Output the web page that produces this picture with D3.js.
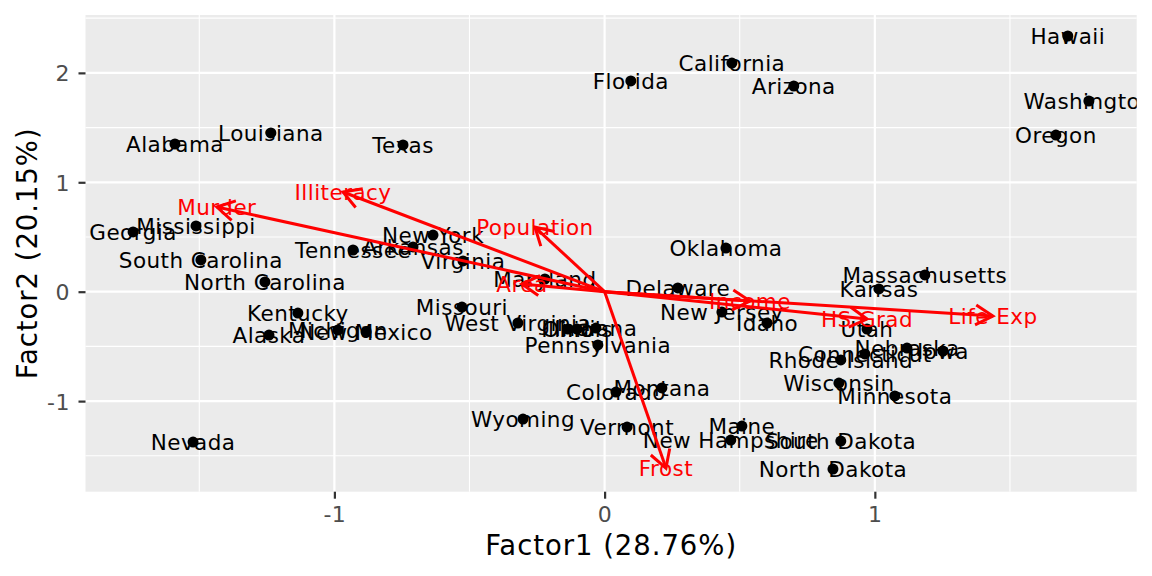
<!DOCTYPE html>
<html>
<head>
<meta charset="utf-8">
<script src="https://cdn.jsdelivr.net/npm/d3@7"></script>
<style>
  html, body { margin: 0; padding: 0; background: #ffffff; }
  svg { display: block; font-family: "DejaVu Sans", sans-serif; }
</style>
</head>
<body>
<div id="chart"></div>
<script>
// State scores on the first two factors
const states = ["Hawaii", "Washington", "Oregon", "California", "Florida", "Arizona",
  "Louisiana", "Alabama", "Texas", "Mississippi", "Georgia", "South Carolina",
  "North Carolina", "Tennessee", "Arkansas", "New York", "Virginia", "Maryland",
  "Oklahoma", "Delaware", "New Jersey", "Idaho", "Missouri", "West Virginia",
  "Ohio", "Illinois", "Indiana", "Pennsylvania", "Colorado", "Montana", "Wyoming",
  "Vermont", "Maine", "New Hampshire", "South Dakota", "North Dakota", "Kentucky",
  "Alaska", "Michigan", "New Mexico", "Nevada", "Massachusetts", "Kansas", "Utah",
  "Nebraska", "Iowa", "Connecticut", "Rhode Island", "Wisconsin", "Minnesota"];
const factor1 = [1.714, 1.792, 1.670, 0.471, 0.097, 0.700,
  -1.235, -1.590, -0.746, -1.512, -1.745, -1.494,
  -1.257, -0.931, -0.709, -0.635, -0.524, -0.221,
  0.449, 0.271, 0.434, 0.601, -0.528, -0.321,
  -0.136, -0.102, -0.032, -0.025, 0.042, 0.212, -0.302,
  0.083, 0.508, 0.467, 0.874, 0.845, -1.135,
  -1.242, -0.987, -0.883, -1.523, 1.185, 1.015, 0.971,
  1.119, 1.252, 0.963, 0.874, 0.867, 1.074];
const factor2 = [2.337, 1.743, 1.432, 2.090, 1.926, 1.880,
  1.451, 1.350, 1.341, 0.601, 0.546, 0.290,
  0.089, 0.381, 0.409, 0.518, 0.281, 0.116,
  0.399, 0.034, -0.186, -0.286, -0.140, -0.286,
  -0.341, -0.341, -0.332, -0.487, -0.917, -0.880, -1.164,
  -1.237, -1.228, -1.356, -1.365, -1.621, -0.195,
  -0.396, -0.350, -0.368, -1.374, 0.153, 0.025, -0.341,
  -0.515, -0.542, -0.569, -0.624, -0.835, -0.953];

// Variable loadings (arrow tips)
const variables = ["Murder", "Illiteracy", "Population", "Area", "Income", "HS Grad", "Life Exp", "Frost"];
const load1 = [-1.435, -0.968, -0.258, -0.306, 0.538, 0.971, 1.437, 0.227];
const load2 = [0.774, 0.911, 0.591, 0.070, -0.085, -0.250, -0.222, -1.612];

const xTicks = [-1, 0, 1];
const yTicks = [-1, 0, 1, 2];
const xMinor = [-1.5, -0.5, 0.5, 1.5];
const yMinor = [-1.5, -0.5, 0.5, 1.5, 2.5];

const xTitle = "Factor1 (28.76%)";
const yTitle = "Factor2 (20.15%)";

const width = 1152, height = 576;
const panel = { left: 85.5, right: 1136.7, top: 15, bottom: 491.7 };

const x = d3.scaleLinear().domain([-1.921, 1.969]).range([panel.left, panel.right]);
const y = d3.scaleLinear().domain([-1.828, 2.529]).range([panel.bottom, panel.top]);

const svg = d3.select("#chart").append("svg")
  .attr("width", width)
  .attr("height", height);

svg.append("defs").append("clipPath").attr("id", "panel-clip")
  .append("rect")
  .attr("x", panel.left).attr("y", panel.top)
  .attr("width", panel.right - panel.left)
  .attr("height", panel.bottom - panel.top);

// Panel background
svg.append("rect")
  .attr("x", panel.left).attr("y", panel.top)
  .attr("width", panel.right - panel.left)
  .attr("height", panel.bottom - panel.top)
  .attr("fill", "#EBEBEB");

// Grid lines
const grid = svg.append("g").attr("stroke", "#ffffff");
grid.selectAll(".xminor").data(xMinor).join("line")
  .attr("x1", d => x(d)).attr("x2", d => x(d))
  .attr("y1", panel.top).attr("y2", panel.bottom)
  .attr("stroke-width", 1.1);
grid.selectAll(".yminor").data(yMinor).join("line")
  .attr("y1", d => y(d)).attr("y2", d => y(d))
  .attr("x1", panel.left).attr("x2", panel.right)
  .attr("stroke-width", 1.1);
grid.selectAll(".xmajor").data(xTicks).join("line")
  .attr("x1", d => x(d)).attr("x2", d => x(d))
  .attr("y1", panel.top).attr("y2", panel.bottom)
  .attr("stroke-width", 2.2);
grid.selectAll(".ymajor").data(yTicks).join("line")
  .attr("y1", d => y(d)).attr("y2", d => y(d))
  .attr("x1", panel.left).attr("x2", panel.right)
  .attr("stroke-width", 2.2);

// Axes (ggplot-ish: short dark ticks, grey labels, no domain line)
const fmt = d => String(d); // plain hyphen for negatives, like R
const xAxis = svg.append("g")
  .attr("transform", `translate(0,${panel.bottom})`)
  .call(d3.axisBottom(x).tickValues(xTicks).tickSize(7).tickPadding(8).tickFormat(fmt));
const yAxis = svg.append("g")
  .attr("transform", `translate(${panel.left},0)`)
  .call(d3.axisLeft(y).tickValues(yTicks).tickSize(7).tickPadding(8.5).tickFormat(fmt));
[xAxis, yAxis].forEach(a => {
  a.select(".domain").remove();
  a.selectAll(".tick line").attr("stroke", "#333333").attr("stroke-width", 2.2);
  a.selectAll(".tick text")
    .attr("fill", "#4D4D4D")
    .style("font-size", "22px")
    .style("letter-spacing", "0.5px")
    .style("font-family", "DejaVu Sans, sans-serif");
});
yAxis.selectAll(".tick text").attr("dy", "0.36em");

// Axis titles
svg.append("text")
  .attr("x", (panel.left + panel.right) / 2)
  .attr("y", 555)
  .attr("text-anchor", "middle")
  .style("font-size", "27.5px")
  .style("letter-spacing", "0.95px")
  .attr("fill", "#000000")
  .text(xTitle);
svg.append("text")
  .attr("transform", `translate(37,${(panel.top + panel.bottom) / 2}) rotate(-90)`)
  .attr("text-anchor", "middle")
  .style("font-size", "27.5px")
  .style("letter-spacing", "0.95px")
  .attr("fill", "#000000")
  .text(yTitle);

const plot = svg.append("g").attr("clip-path", "url(#panel-clip)");

const scores = states.map((s, i) => ({ name: s, f1: factor1[i], f2: factor2[i] }));
const loads = variables.map((v, i) => ({ name: v, l1: load1[i], l2: load2[i] }));

// Points
plot.selectAll("circle").data(scores).join("circle")
  .attr("cx", d => x(d.f1))
  .attr("cy", d => y(d.f2))
  .attr("r", 5.5)
  .attr("fill", "#000000");

// State labels
plot.selectAll(".state").data(scores).join("text")
  .attr("class", "state")
  .attr("x", d => x(d.f1))
  .attr("y", d => y(d.f2))
  .attr("dy", "0.36em")
  .attr("text-anchor", "middle")
  .style("font-size", "21.5px")
  .style("letter-spacing", "0.45px")
  .attr("fill", "#000000")
  .text(d => d.name);

// Loading arrows with open heads
const headLen = 20, headAng = Math.PI / 6;
const arrows = plot.append("g")
  .attr("stroke", "#FF0000")
  .attr("stroke-width", 3)
  .attr("fill", "none")
  .attr("stroke-linecap", "butt");
arrows.selectAll(".shaft").data(loads).join("line")
  .attr("x1", x(0)).attr("y1", y(0))
  .attr("x2", d => x(d.l1)).attr("y2", d => y(d.l2));
arrows.selectAll(".head").data(loads).join("path")
  .attr("d", d => {
    const tx = x(d.l1), ty = y(d.l2);
    const a = Math.atan2(ty - y(0), tx - x(0));
    const p1 = [tx - headLen * Math.cos(a - headAng), ty - headLen * Math.sin(a - headAng)];
    const p2 = [tx - headLen * Math.cos(a + headAng), ty - headLen * Math.sin(a + headAng)];
    return `M${p1[0]},${p1[1]}L${tx},${ty}L${p2[0]},${p2[1]}`;
  });

// Variable labels
plot.selectAll(".var").data(loads).join("text")
  .attr("class", "var")
  .attr("x", d => x(d.l1))
  .attr("y", d => y(d.l2))
  .attr("dy", "0.36em")
  .attr("text-anchor", "middle")
  .style("font-size", "21.5px")
  .style("letter-spacing", "0.45px")
  .attr("fill", "#FF0000")
  .text(d => d.name);
</script>
</body>
</html>
